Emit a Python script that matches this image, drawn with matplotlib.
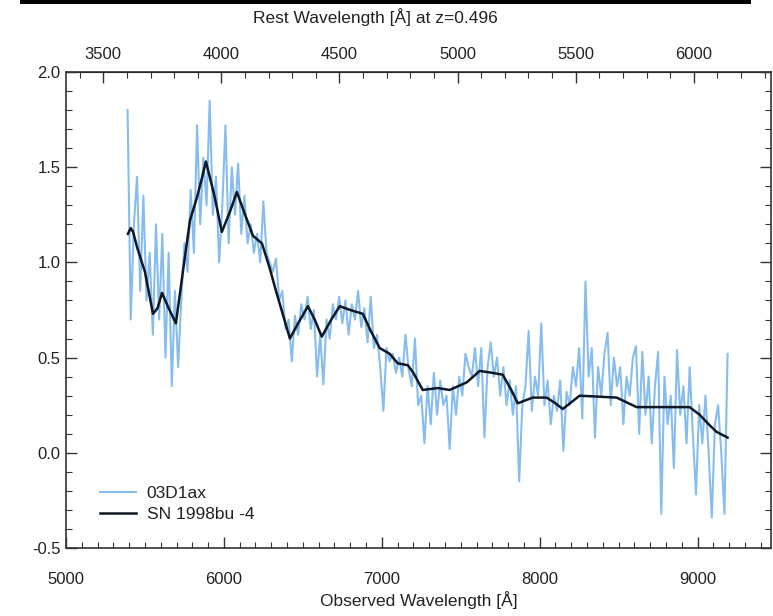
import numpy as np
import matplotlib
matplotlib.use("Agg")
import matplotlib.pyplot as plt
from matplotlib.ticker import MultipleLocator, FixedLocator, FormatStrFormatter
from matplotlib.patches import Rectangle

plt.rcParams['font.family'] = ['Liberation Sans', 'DejaVu Sans']

redshift = 0.496

# Observed spectrum of 03D1ax, sampled every 20 Å from 5390 Å
obs_start = 5390
obs_step = 20
obs_flux = [
    1.80, 0.70, 1.20, 1.45, 0.85, 1.35, 0.80, 1.05, 0.62, 1.20,
    0.70, 1.15, 0.50, 1.05, 0.35, 0.85, 0.45, 0.80, 1.10, 0.95,
    1.38, 1.05, 1.72, 1.20, 1.55, 1.30, 1.85, 1.25, 1.45, 1.00,
    1.30, 1.72, 1.10, 1.50, 1.25, 1.52, 1.15, 1.35, 1.10, 1.20,
    1.05, 1.15, 1.00, 1.32, 1.05, 1.00, 0.95, 1.02, 0.80, 0.85,
    0.65, 0.70, 0.48, 0.72, 0.62, 0.78, 0.70, 0.82, 0.65, 0.75,
    0.40, 0.62, 0.36, 0.70, 0.60, 0.78, 0.70, 0.82, 0.68, 0.80,
    0.62, 0.78, 0.70, 0.85, 0.66, 0.76, 0.58, 0.82, 0.55, 0.62,
    0.45, 0.22, 0.55, 0.48, 0.52, 0.42, 0.50, 0.40, 0.62, 0.44,
    0.35, 0.60, 0.25, 0.30, 0.05, 0.35, 0.15, 0.42, 0.20, 0.38,
    0.25, 0.30, 0.02, 0.35, 0.20, 0.40, 0.30, 0.52, 0.45, 0.40,
    0.55, 0.35, 0.55, 0.08, 0.45, 0.58, 0.40, 0.50, 0.30, 0.45,
    0.25, 0.38, 0.20, 0.35, -0.15, 0.25, 0.35, 0.64, 0.22, 0.40,
    0.30, 0.68, 0.25, 0.38, 0.15, 0.30, 0.22, 0.38, 0.01, 0.32,
    0.25, 0.45, 0.35, 0.55, 0.18, 0.90, 0.40, 0.55, 0.08, 0.45,
    0.30, 0.52, 0.63, 0.25, 0.50, 0.35, 0.45, 0.15, 0.40, 0.30,
    0.50, 0.56, 0.10, 0.53, 0.20, 0.40, 0.05, 0.35, 0.53, -0.32,
    0.40, 0.15, 0.30, -0.08, 0.54, 0.20, 0.35, 0.05, 0.45, 0.10,
    -0.22, 0.25, 0.05, 0.30, 0.00, -0.34, 0.15, 0.25, 0.00, -0.32,
    0.52,
]
obs_wave = obs_start + obs_step * np.arange(len(obs_flux))

# Template spectrum SN 1998bu at -4 days, redshifted
tmpl_wave = [5392, 5410, 5425, 5450, 5500, 5551, 5580, 5608, 5650, 5696,
             5740, 5785, 5829, 5860, 5886, 5910, 5940, 5987, 6040, 6082,
             6130, 6184, 6241, 6290, 6330, 6418, 6470, 6532, 6575, 6620,
             6680, 6734, 6800, 6880, 6930, 6987, 7050, 7101, 7165, 7200,
             7259, 7354, 7430, 7538, 7620, 7700, 7766, 7820, 7861, 7956,
             8044, 8100, 8146, 8253, 8487, 8614, 8759, 8949, 9013, 9070,
             9120, 9190]
tmpl_flux = [1.15, 1.18, 1.16, 1.08, 0.95, 0.73, 0.76, 0.84, 0.76, 0.68,
             0.95, 1.22, 1.34, 1.44, 1.53, 1.45, 1.35, 1.16, 1.27, 1.37,
             1.26, 1.14, 1.10, 0.97, 0.85, 0.60, 0.68, 0.77, 0.70, 0.61,
             0.70, 0.77, 0.75, 0.73, 0.64, 0.55, 0.52, 0.47, 0.46, 0.42,
             0.33, 0.34, 0.33, 0.37, 0.43, 0.42, 0.41, 0.33, 0.26, 0.29,
             0.29, 0.26, 0.23, 0.30, 0.29, 0.24, 0.24, 0.24, 0.20, 0.15,
             0.11, 0.08]

labels = ["03D1ax", "SN 1998bu -4"]
rest_ticks = [3500, 4000, 4500, 5000, 5500, 6000]

W, H = 773, 616
fig = plt.figure(figsize=(W / 100, H / 100), dpi=100)
ax = fig.add_axes([66 / W, 1 - 548 / H, (771 - 66) / W, (548 - 72) / H])

ax.plot(obs_wave, obs_flux, color='#7ab6ec', lw=1.5, alpha=0.9,
        solid_joinstyle='round', label=labels[0])
ax.plot(tmpl_wave, tmpl_flux, color='#0f1824', lw=1.8,
        solid_joinstyle='round', label=labels[1])

ax.set_xlim(5000, 9465)
ax.set_ylim(-0.5, 2.0)

tick_color = '#333333'
ax.xaxis.set_major_locator(MultipleLocator(1000))
ax.xaxis.set_minor_locator(MultipleLocator(100))
ax.yaxis.set_major_locator(MultipleLocator(0.5))
ax.yaxis.set_minor_locator(MultipleLocator(0.1))
ax.yaxis.set_major_formatter(FormatStrFormatter('%.1f'))
ax.tick_params(axis='both', which='major', direction='in', length=8, width=1,
               colors=tick_color, labelsize=12, labelcolor='#222222')
ax.tick_params(axis='both', which='minor', direction='in', length=4, width=0.8,
               colors=tick_color)
ax.tick_params(axis='x', which='both', top=False, pad=17)
ax.tick_params(axis='y', which='both', right=True, pad=4)
for s in ax.spines.values():
    s.set_linewidth(1.2)
    s.set_color('#333333')

ax.set_xlabel('Observed Wavelength [Å]', fontsize=12.5, color='#222222', labelpad=3)

# Rest-frame wavelength axis on top
top = ax.secondary_xaxis('top', functions=(lambda w: w / (1 + redshift),
                                           lambda w: w * (1 + redshift)))
top.xaxis.set_major_locator(FixedLocator(rest_ticks))
top.xaxis.set_minor_locator(FixedLocator(np.arange(3400, 6400, 100)))
top.tick_params(which='major', direction='in', length=8, width=1,
                colors=tick_color, labelsize=12, labelcolor='#222222', pad=7)
top.tick_params(which='minor', direction='in', length=4, width=0.8,
                colors=tick_color)
fig.text(375 / W, 1 - 17 / H, 'Rest Wavelength [Å] at z=0.496',
         ha='center', va='center', fontsize=12.5, color='#222222')

leg = ax.legend(loc='lower left', bbox_to_anchor=(0.048, 0.055), frameon=False,
                fontsize=12.5, handlelength=2.1, handletextpad=0.6,
                labelspacing=0.35, borderaxespad=0, borderpad=0)
for t in leg.get_texts():
    t.set_color('#222222')

# Heavy rule across the top of the page
fig.add_artist(Rectangle((20 / W, 1 - 4 / H), (751 - 20) / W, 4 / H,
                         transform=fig.transFigure, color='black', lw=0))

fig.savefig('out.png', dpi=100)
